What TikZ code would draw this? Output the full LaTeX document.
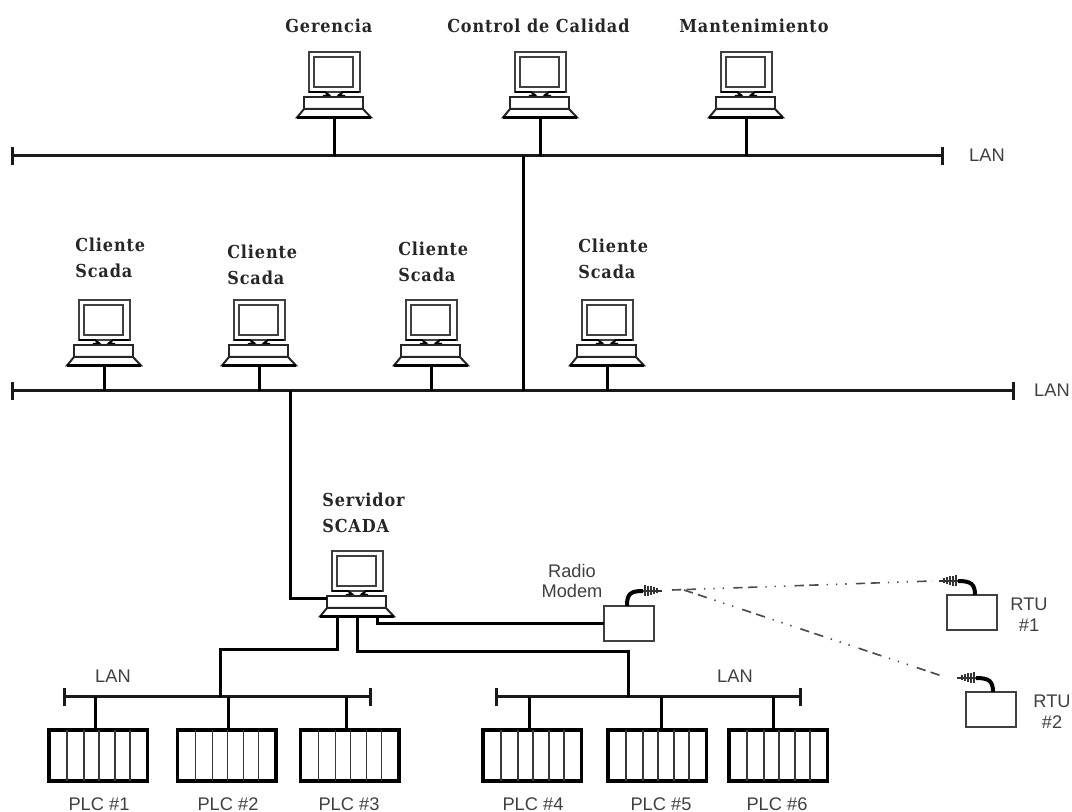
\documentclass[tikz,border=0pt]{standalone}
\usepackage{fontspec}
\setmainfont[LetterSpace=5]{DejaVu Serif Condensed}
\setsansfont{Liberation Sans}
\tikzset{
  px/.style={x=0.75pt,y=-0.75pt},
  bus/.style={line width=2.25pt,black!90},
  wire/.style={line width=2.25pt,black},
  serlab/.style={font=\rmfamily\bfseries\fontsize{13.4}{19.5}\selectfont,align=left,anchor=west,text=black!85,inner sep=0pt},
  sanlab/.style={font=\sffamily\fontsize{13.7}{15.5}\selectfont,align=center,text=black!75,inner sep=0pt},
  pcbox/.style={minimum width=55.5pt,minimum height=49.5pt,inner sep=0pt,anchor=north},
  plcbox/.style={draw=black,line width=2.6pt,outer sep=0pt,minimum width=74pt,minimum height=38.25pt,inner sep=0pt,anchor=north west},
  modbox/.style={draw=black!75,line width=1.3pt,outer sep=0pt,minimum width=37.5pt,minimum height=26pt,inner sep=0pt,anchor=north west},
  radio/.style={dash pattern=on 7pt off 4pt on 7pt off 6pt on 1pt off 6pt on 1pt off 6pt on 1pt off 7pt,line width=1.2pt,black!70},
}
% name, centre x, top y
\newcommand{\pcunit}[3]{%
  \node[pcbox] (#1) at (#2,#3) {};
  \begin{scope}[shift={(#2,#3)}]
    \draw[line width=1.5pt,black!75] (-25.5,0) rectangle (25.5,40);
    \draw[line width=1.6pt,black!75] (-20,5) rectangle (19,35);
    \draw[line width=1.4pt,black] (-25,40) -- (-9,40) -- (-5,43) -- (-11,44) (25,40) -- (9,40) -- (5,43) -- (11,44);
    \draw[line width=2pt,black] (-20,45) -- (20,45);
    \draw[line width=1.5pt,black!85] (-30,45) rectangle (29,57);
    \draw[line width=1.5pt,black!85,fill=white] (-30,57) -- (-37,65.5) -- (37,65.5) -- (29,57) -- cycle;
    \draw[line width=2.6pt,black,line join=round] (-37,65.5) -- (37,65.5);
  \end{scope}}
% name, left x, top y
\newcommand{\plcunit}[3]{%
  \node[plcbox] (#1) at (#2,#3) {};
  \begin{scope}[shift={(#2,#3)}]
    \foreach \d in {18,35,50,66,81}
      \draw[line width=1.3pt,black!78] (\d,0) -- (\d,51);
  \end{scope}}
% antenna: centre x, y, direction sign
\newcommand{\antenna}[3]{%
  \begin{scope}[shift={(#1,#2)},xscale=#3]
    \draw[line width=1.2pt,black!80] (0,0) -- (19,0);
    \foreach \d/\h in {2/5.5,5/5,8/4.5,11/3.5,14/2.5}
      \draw[line width=.9pt,black!80] (\d,-\h) -- (\d,\h);
  \end{scope}}
\begin{document}
\begin{tikzpicture}[px]
\useasboundingbox (0,0) rectangle (1072,812);
% buses
\coordinate (b1l) at (12,156); \coordinate (b1r) at (942,156);
\coordinate (b2l) at (12,391); \coordinate (b2r) at (1013,391);
\coordinate (b3l) at (64,697); \coordinate (b3r) at (370,697);
\coordinate (b4l) at (496,697); \coordinate (b4r) at (800,697);
\foreach \a/\b in {b1l/b1r,b2l/b2r,b3l/b3r,b4l/b4r}{
  \draw[bus] (\a) -- (\b);
  \draw[bus] ([yshift=6.4pt]\a) -- ([yshift=-6.4pt]\a);
  \draw[bus] ([yshift=6.4pt]\b) -- ([yshift=-6.4pt]\b);
}
% computers
\pcunit{ger}{334}{52}
\pcunit{cal}{540}{52}
\pcunit{man}{746}{52}
\pcunit{c1}{104}{300}
\pcunit{c2}{259}{300}
\pcunit{c3}{431}{300}
\pcunit{c4}{607}{300}
\pcunit{srv}{357}{551}
\foreach \n in {ger,cal,man}
  \draw[wire] (\n.south) -- (\n.south |- b1l);
\foreach \n in {c1,c2,c3,c4}
  \draw[wire] (\n.south) -- (\n.south |- b2l);
% backbone links
\coordinate (j1) at (523,156);
\coordinate (j2) at (523,391);
\draw[wire] (j1) -- (j2);
\coordinate (j3) at (290,391);
\coordinate (srvl) at (327,599);
\draw[wire] (j3) |- (srvl);
% PLCs
\plcunit{p1}{49}{730}
\plcunit{p2}{177.5}{730}
\plcunit{p3}{300.5}{730}
\plcunit{p4}{483}{730}
\plcunit{p5}{608}{730}
\plcunit{p6}{729}{730}
\foreach \n/\x in {p1/95,p2/228,p3/346}
  \draw[wire] (\x,697) -- (\n.north -| \x,0);
\foreach \n/\x in {p4/529,p5/661,p6/773}
  \draw[wire] (\x,697) -- (\n.north -| \x,0);
% server to LANs
\coordinate (s1) at (337,617); \coordinate (k1) at (220,697);
\draw[wire] (s1) -- (337,650) -| (k1);
\coordinate (s2) at (357,617); \coordinate (k2) at (628,697);
\draw[wire] (s2) -- (357,652) -| (k2);
% modems
\node[modbox] (mod) at (604,606) {};
\node[modbox] (rtu1) at (947,595) {};
\node[modbox] (rtu2) at (966,692) {};
\coordinate (s3) at (377,617);
\draw[wire] (s3) |- (mod.west);
\coordinate (a0) at (643,591);
\coordinate (a1) at (958,581);
\coordinate (a2) at (976,678);
\draw[line width=3pt] (627,606) .. controls (627,594) and (630,591) .. (a0);
\draw[line width=3pt] (975,595) .. controls (975,584) and (971,581) .. (a1);
\draw[line width=3pt] (993,692) .. controls (993,681) and (989,678) .. (a2);
\antenna{643}{591}{1}
\antenna{958}{581}{-1}
\antenna{976}{678}{-1}
\coordinate (r0) at (672,590);
\coordinate (r1) at (932,581);
\coordinate (r0b) at (684,590);
\coordinate (r2) at (945,677);
\draw[radio] (r0) -- (r1);
\draw[radio] (r0b) -- (r2);
% serif labels
\node[serlab] (t1) at (285,26) {Gerencia};
\node[serlab] (t2) at (447,26) {Control de Calidad};
\node[serlab] (t3) at (679,26) {Mantenimiento};
\node[serlab] (t4) at (75,258) {Cliente\\Scada};
\node[serlab] (t5) at (227,265) {Cliente\\Scada};
\node[serlab] (t6) at (398,262) {Cliente\\Scada};
\node[serlab] (t7) at (578,259) {Cliente\\Scada};
\node[serlab] (t8) at (322,512.5) {Servidor\\SCADA};
% sans labels
\node[sanlab] (l1) at (987,155) {LAN};
\node[sanlab] (l2) at (1052,390) {LAN};
\node[sanlab] (l3) at (113,676) {LAN};
\node[sanlab] (l4) at (735,676) {LAN};
\node[sanlab] (l5) at (572,581) {Radio\\Modem};
\node[sanlab] (l6) at (1029,615) {RTU\\\#1};
\node[sanlab] (l7) at (1052,712) {RTU\\\#2};
\node[sanlab] (q1) at (99,804) {PLC \#1};
\node[sanlab] (q2) at (228,804) {PLC \#2};
\node[sanlab] (q3) at (349,804) {PLC \#3};
\node[sanlab] (q4) at (533,804) {PLC \#4};
\node[sanlab] (q5) at (661,804) {PLC \#5};
\node[sanlab] (q6) at (777,804) {PLC \#6};
\end{tikzpicture}
\end{document}
